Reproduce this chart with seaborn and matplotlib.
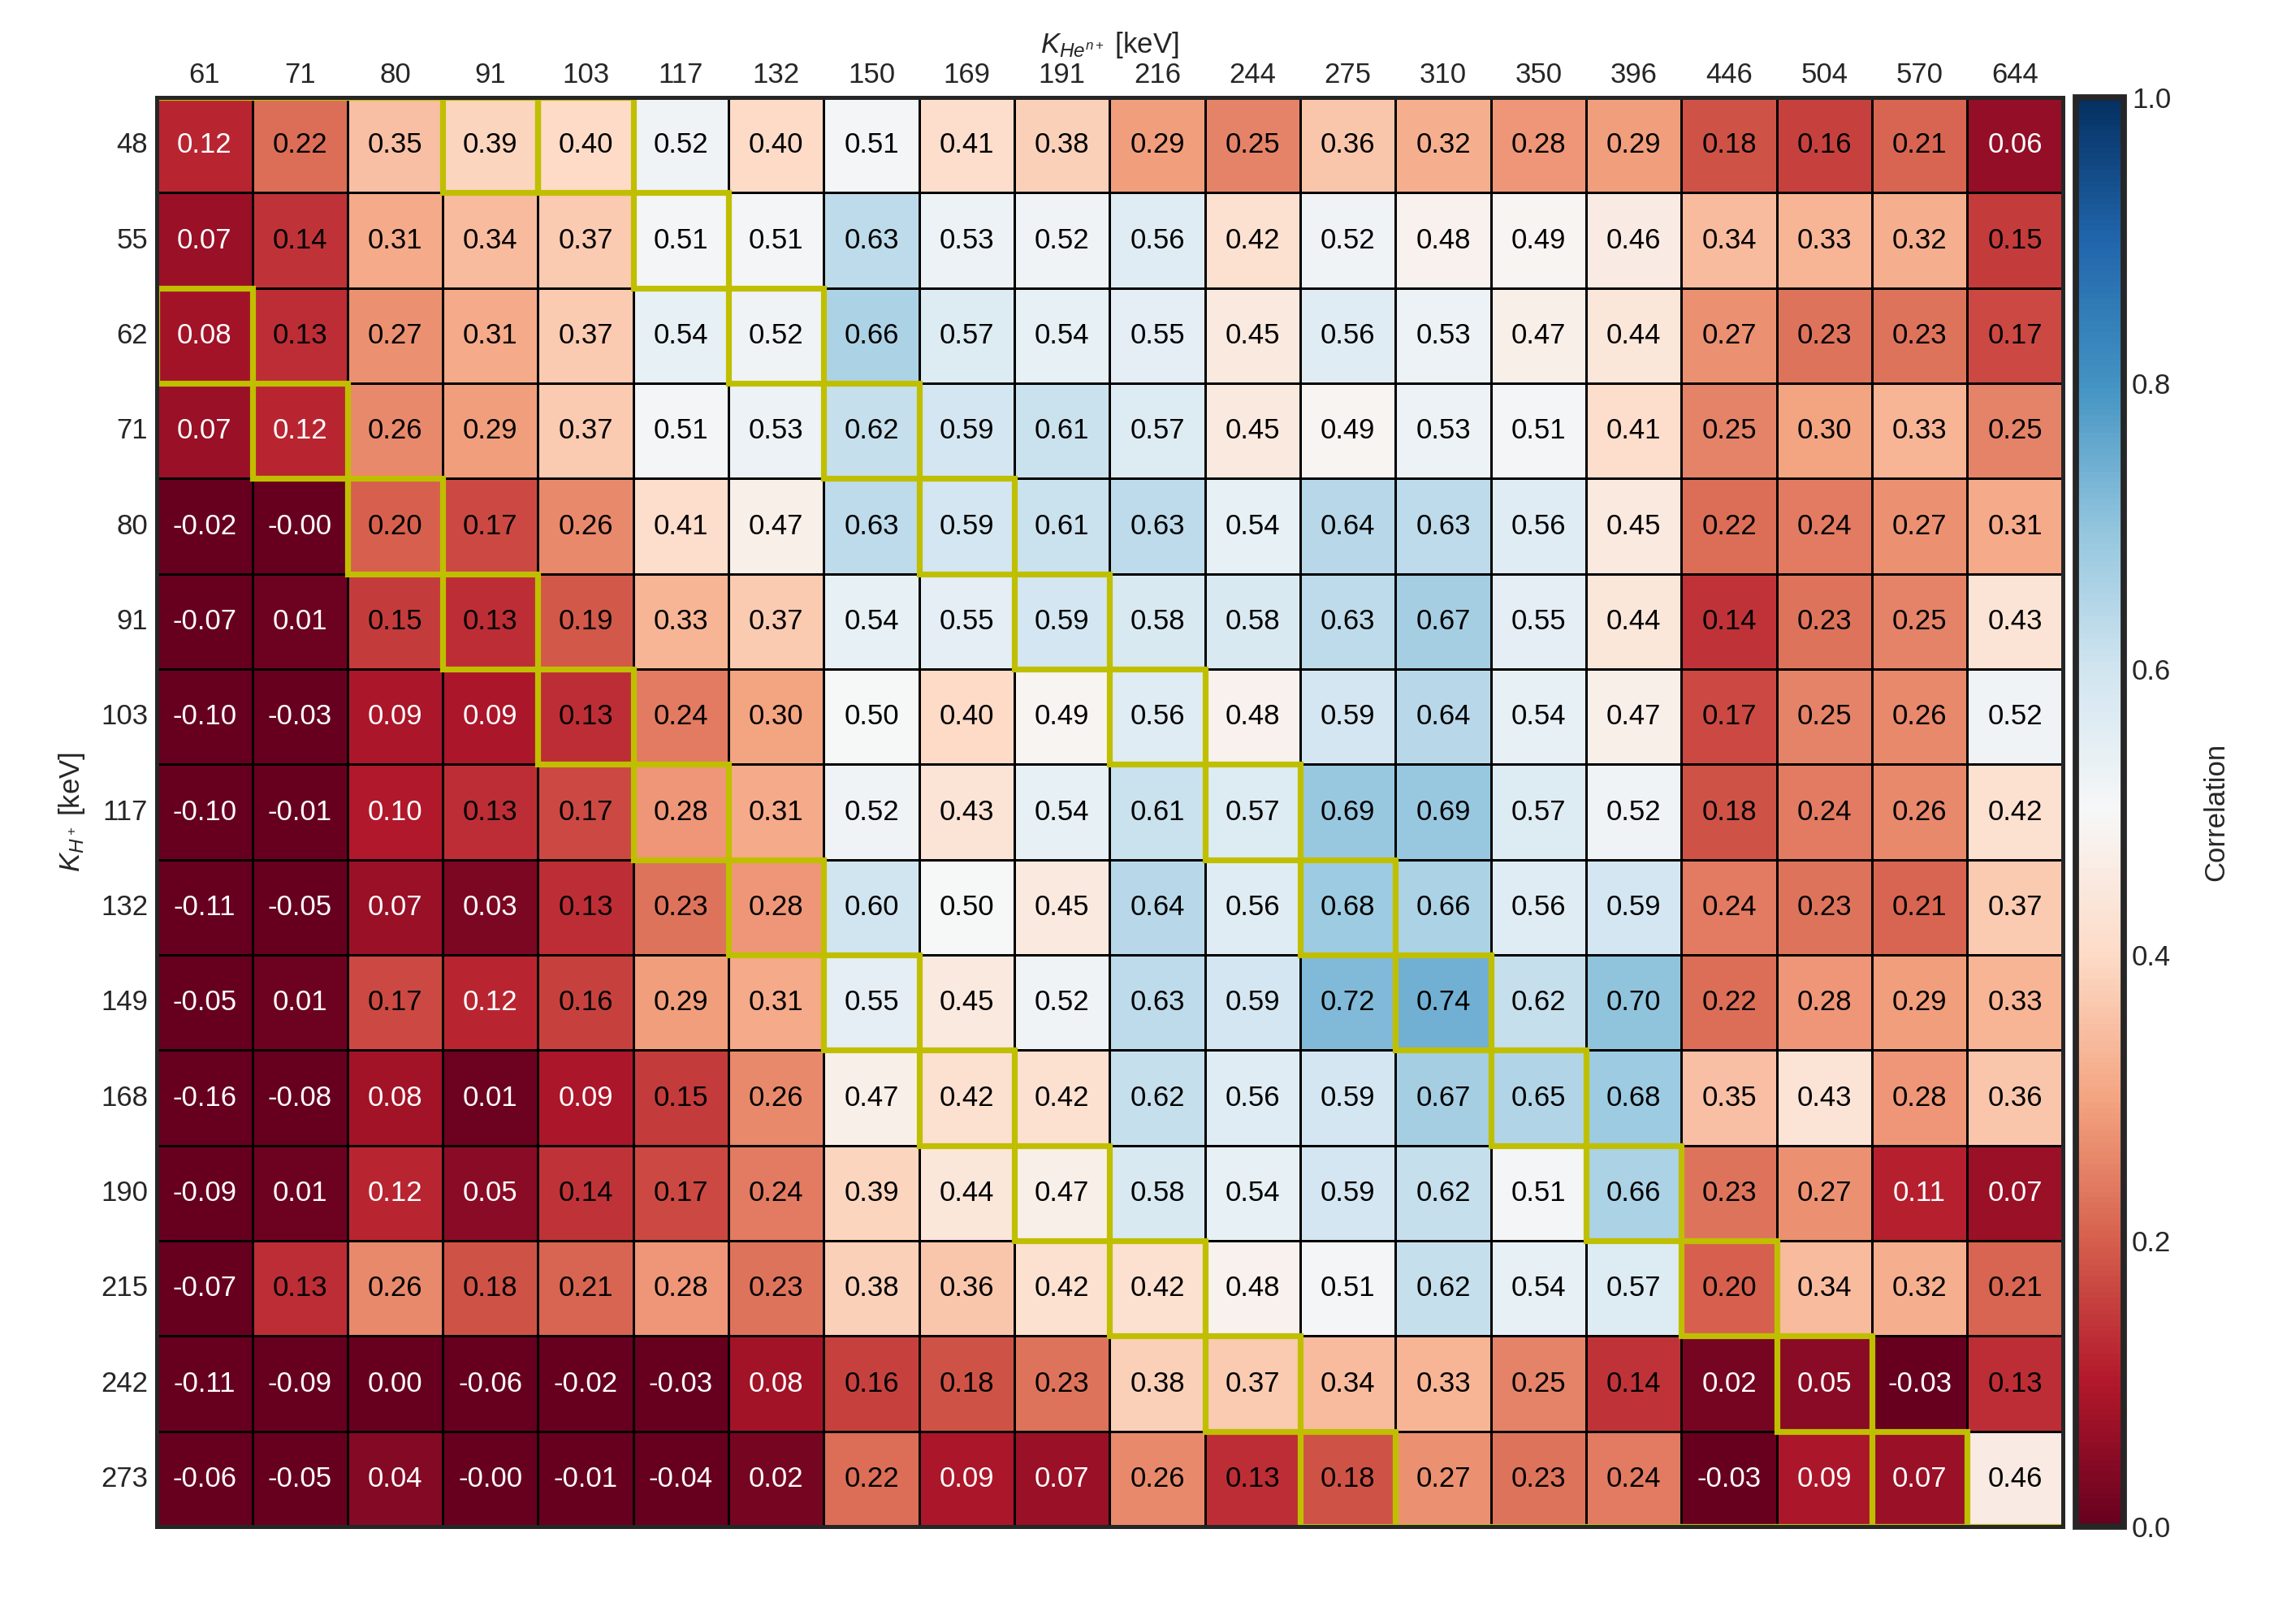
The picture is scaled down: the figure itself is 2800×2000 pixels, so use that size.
import numpy as np
import pandas as pd
import seaborn as sns
import matplotlib.pyplot as plt
from matplotlib.patches import Rectangle

# energy bins [keV]
he_energies = [61, 71, 80, 91, 103, 117, 132, 150, 169, 191, 216, 244, 275, 310, 350, 396, 446, 504, 570, 644]
h_energies = [48, 55, 62, 71, 80, 91, 103, 117, 132, 149, 168, 190, 215, 242, 273]

# correlation values, one row per H+ energy bin
r48 = [0.12, 0.22, 0.35, 0.39, 0.40, 0.52, 0.40, 0.51, 0.41, 0.38, 0.29, 0.25, 0.36, 0.32, 0.28, 0.29, 0.18, 0.16, 0.21, 0.06]
r55 = [0.07, 0.14, 0.31, 0.34, 0.37, 0.51, 0.51, 0.63, 0.53, 0.52, 0.56, 0.42, 0.52, 0.48, 0.49, 0.46, 0.34, 0.33, 0.32, 0.15]
r62 = [0.08, 0.13, 0.27, 0.31, 0.37, 0.54, 0.52, 0.66, 0.57, 0.54, 0.55, 0.45, 0.56, 0.53, 0.47, 0.44, 0.27, 0.23, 0.23, 0.17]
r71 = [0.07, 0.12, 0.26, 0.29, 0.37, 0.51, 0.53, 0.62, 0.59, 0.61, 0.57, 0.45, 0.49, 0.53, 0.51, 0.41, 0.25, 0.30, 0.33, 0.25]
r80 = [-0.02, -0.004, 0.20, 0.17, 0.26, 0.41, 0.47, 0.63, 0.59, 0.61, 0.63, 0.54, 0.64, 0.63, 0.56, 0.45, 0.22, 0.24, 0.27, 0.31]
r91 = [-0.07, 0.01, 0.15, 0.13, 0.19, 0.33, 0.37, 0.54, 0.55, 0.59, 0.58, 0.58, 0.63, 0.67, 0.55, 0.44, 0.14, 0.23, 0.25, 0.43]
r103 = [-0.10, -0.03, 0.09, 0.09, 0.13, 0.24, 0.30, 0.50, 0.40, 0.49, 0.56, 0.48, 0.59, 0.64, 0.54, 0.47, 0.17, 0.25, 0.26, 0.52]
r117 = [-0.10, -0.01, 0.10, 0.13, 0.17, 0.28, 0.31, 0.52, 0.43, 0.54, 0.61, 0.57, 0.69, 0.69, 0.57, 0.52, 0.18, 0.24, 0.26, 0.42]
r132 = [-0.11, -0.05, 0.07, 0.03, 0.13, 0.23, 0.28, 0.60, 0.50, 0.45, 0.64, 0.56, 0.68, 0.66, 0.56, 0.59, 0.24, 0.23, 0.21, 0.37]
r149 = [-0.05, 0.01, 0.17, 0.12, 0.16, 0.29, 0.31, 0.55, 0.45, 0.52, 0.63, 0.59, 0.72, 0.74, 0.62, 0.70, 0.22, 0.28, 0.29, 0.33]
r168 = [-0.16, -0.08, 0.08, 0.01, 0.09, 0.15, 0.26, 0.47, 0.42, 0.42, 0.62, 0.56, 0.59, 0.67, 0.65, 0.68, 0.35, 0.43, 0.28, 0.36]
r190 = [-0.09, 0.01, 0.12, 0.05, 0.14, 0.17, 0.24, 0.39, 0.44, 0.47, 0.58, 0.54, 0.59, 0.62, 0.51, 0.66, 0.23, 0.27, 0.11, 0.07]
r215 = [-0.07, 0.13, 0.26, 0.18, 0.21, 0.28, 0.23, 0.38, 0.36, 0.42, 0.42, 0.48, 0.51, 0.62, 0.54, 0.57, 0.20, 0.34, 0.32, 0.21]
r242 = [-0.11, -0.09, 0.002, -0.06, -0.02, -0.03, 0.08, 0.16, 0.18, 0.23, 0.38, 0.37, 0.34, 0.33, 0.25, 0.14, 0.02, 0.05, -0.03, 0.13]
r273 = [-0.06, -0.05, 0.04, -0.003, -0.01, -0.04, 0.02, 0.22, 0.09, 0.07, 0.26, 0.13, 0.18, 0.27, 0.23, 0.24, -0.03, 0.09, 0.07, 0.46]

# highlighted cells (row, col); some lie just outside the grid and get clipped
same_energy = [(-1, 0), (-1, 1), (-1, 2), (2, 0), (3, 1), (4, 2), (5, 3), (6, 4), (7, 5), (8, 6), (9, 7),
               (10, 8), (11, 9), (12, 10), (13, 11), (14, 12), (15, 13), (15, 14), (15, 15), (15, 16),
               (15, 17), (15, 18), (15, 19)]
double_energy = [(0, 3), (0, 4), (1, 5), (2, 6), (3, 7), (4, 8), (5, 9), (6, 10), (7, 11), (8, 12),
                 (9, 13), (10, 14), (11, 15), (12, 16), (13, 17), (14, 18)]

rows = [r48, r55, r62, r71, r80, r91, r103, r117, r132, r149, r168, r190, r215, r242, r273]
df = pd.DataFrame(rows, index=h_energies, columns=he_energies)

sns.set_theme(style="ticks")
plt.rcParams["font.family"] = ["Liberation Sans", "DejaVu Sans"]
plt.rcParams["mathtext.fontset"] = "custom"
plt.rcParams["mathtext.rm"] = "Liberation Sans"
plt.rcParams["mathtext.it"] = "Liberation Sans:italic"
dark = "#262626"
fs = 12.5

fig = plt.figure(figsize=(14, 10), dpi=200)
ax = fig.add_axes([0.069, 0.06, 0.838, 0.88])
cax = fig.add_axes([0.913, 0.06, 0.021, 0.88])

sns.heatmap(df, ax=ax, cbar_ax=cax, cmap="RdBu", vmin=0, vmax=1, annot=True, fmt=".2f",
            annot_kws={"size": fs}, linewidths=0.5, linecolor="black",
            cbar_kws={"label": "Correlation", "ticks": [0, 0.2, 0.4, 0.6, 0.8, 1.0]})

# white text only on the darkest cells
for txt, v in zip(ax.texts, df.values.ravel()):
    txt.set_color("white" if v < 0.125 else "black")

for r, c in same_energy + double_energy:
    ax.add_patch(Rectangle((c, r), 1, 1, fill=False, edgecolor=(0.75, 0.75, 0), lw=2.6, zorder=2.2))

ax.xaxis.tick_top()
ax.xaxis.set_label_position("top")
ax.set_xlabel(r"$K_{He^{n+}}$ [keV]", fontsize=fs, color=dark, labelpad=4)
ax.set_ylabel(r"$K_{H^+}$ [keV]", fontsize=fs, color=dark, labelpad=6)
ax.tick_params(axis="both", which="both", direction="in", length=4, width=1.3, color=dark,
               labelsize=fs, labelcolor=dark, top=True, bottom=True, left=True, right=True,
               labeltop=True, labelbottom=False, labelleft=True, labelright=False, pad=4)
ax.tick_params(axis="x", labelrotation=0)
ax.tick_params(axis="y", labelrotation=0)
for s in ax.spines.values():
    s.set_visible(True)
    s.set_linewidth(1.8)
    s.set_color(dark)
    s.set_zorder(3)

cbar = ax.collections[0].colorbar
cbar.set_ticklabels(["0.0", "0.2", "0.4", "0.6", "0.8", "1.0"])
cbar.ax.tick_params(direction="in", length=5, width=1.3, color=dark, labelsize=fs, labelcolor=dark)
cbar.outline.set_visible(True)
cbar.outline.set_linewidth(2.8)
cbar.outline.set_edgecolor(dark)
cbar.ax.yaxis.label.set_size(fs)
cbar.ax.yaxis.label.set_color(dark)
cbar.ax.yaxis.labelpad = 14

fig.savefig("out.png", dpi=200)
